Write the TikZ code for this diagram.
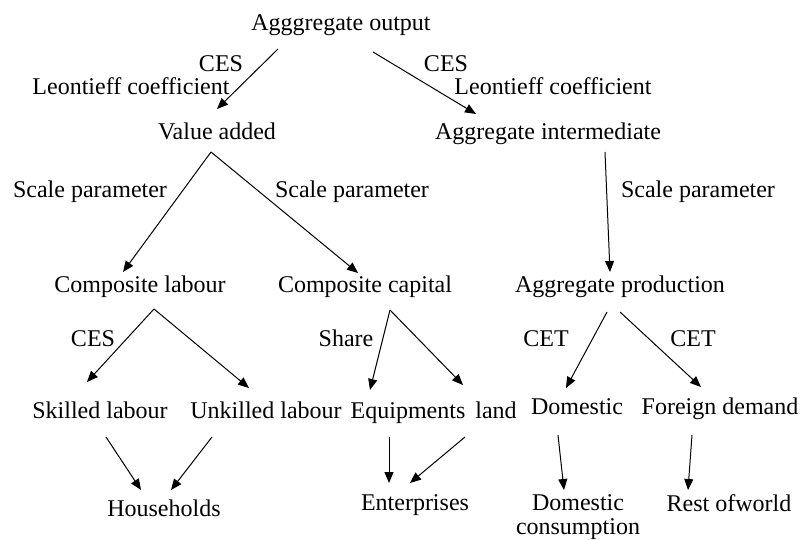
\documentclass[tikz,border=0pt]{standalone}
\usepackage{fontspec}
\setmainfont{Liberation Serif}
\usetikzlibrary{arrows.meta}
\begin{document}
\begin{tikzpicture}[x=1pt,y=-1pt,
  lbl/.style={inner sep=0pt,text height=17pt,text depth=5pt,font=\fontsize{24}{28}\selectfont},
  arr/.style={-{Triangle[length=11pt,width=9pt]},line width=1pt}]
\useasboundingbox (0,0) rectangle (801,539);
% nodes
\node[lbl] (ao) at (341,24) {Agggregate output};
\node[lbl] (ces1) at (221,65) {CES};
\node[lbl] (leo1) at (131,88) {Leontieff coefficient};
\node[lbl] (ces2) at (446,65) {CES};
\node[lbl] (leo2) at (553,88) {Leontieff coefficient};
\node[lbl] (va) at (217,133) {Value added};
\node[lbl] (ai) at (548,133) {Aggregate intermediate};
\node[lbl] (sp1) at (90,191) {Scale parameter};
\node[lbl] (sp2) at (352,191) {Scale parameter};
\node[lbl] (sp3) at (698,191) {Scale parameter};
\node[lbl] (cl) at (140,286) {Composite labour};
\node[lbl] (cc) at (365,286) {Composite capital};
\node[lbl] (ap) at (620,286) {Aggregate production};
\node[lbl] (ces3) at (93,340) {CES};
\node[lbl] (share) at (346,340) {Share};
\node[lbl] (cet1) at (546,340) {CET};
\node[lbl] (cet2) at (693,340) {CET};
\node[lbl] (sk) at (100,412) {Skilled labour};
\node[lbl] (uk) at (266,412) {Unkilled labour};
\node[lbl] (eq) at (408,412) {Equipments};
\node[lbl] (land) at (496,412) {land};
\node[lbl] (dom) at (577,408) {Domestic};
\node[lbl] (fd) at (720,408) {Foreign demand};
\node[lbl] (hh) at (164,510) {Households};
\node[lbl] (ent) at (415,504) {Enterprises};
\node[inner sep=0pt,align=center,font=\fontsize{24}{24}\selectfont] (dc) at (578,517) {Domestic\\consumption};
\node[lbl] (rw) at (729,505) {Rest ofworld};
% connectors
\draw[arr] ([shift={(-63,25)}]ao.center) -- ([shift={(0,-24)}]va.center);
\draw[arr] ([shift={(32,28)}]ao.center) -- ([shift={(-72,-19)}]ai.center);
\draw[arr] ([shift={(-6,19)}]va.center) -- ([shift={(-17,-14)}]cl.center);
\draw[arr] ([shift={(-6,19)}]va.center) -- ([shift={(-7,-13)}]cc.center);
\draw[arr] ([shift={(57,19)}]ai.center) -- ([shift={(-10,-14)}]ap.center);
\draw[arr] ([shift={(14,23)}]cl.center) -- ([shift={(-13,-30)}]sk.center);
\draw[arr] ([shift={(14,23)}]cl.center) -- ([shift={(-17,-24)}]uk.center);
\draw[arr] ([shift={(25,24)}]cc.center) -- ([shift={(-38,-22)}]eq.center);
\draw[arr] ([shift={(25,24)}]cc.center) -- ([shift={(-33,-27)}]land.center);
\draw[arr] ([shift={(-13,26)}]ap.center) -- ([shift={(-11,-20)}]dom.center);
\draw[arr] ([shift={(0,26)}]ap.center) -- ([shift={(-19,-21)}]fd.center);
\draw[arr] ([shift={(6,25)}]sk.center) -- ([shift={(-23,-20)}]hh.center);
\draw[arr] ([shift={(-54,25)}]uk.center) -- ([shift={(7,-20)}]hh.center);
\draw[arr] ([shift={(-19,25)}]eq.center) -- ([shift={(-26,-21)}]ent.center);
\draw[arr] ([shift={(-31,25)}]land.center) -- ([shift={(-5,-21)}]ent.center);
\draw[arr] ([shift={(-19,27)}]dom.center) -- ([shift={(-14,-27)}]dc.center);
\draw[arr] ([shift={(-28,27)}]fd.center) -- ([shift={(-41,-15)}]rw.center);
\end{tikzpicture}
\end{document}
